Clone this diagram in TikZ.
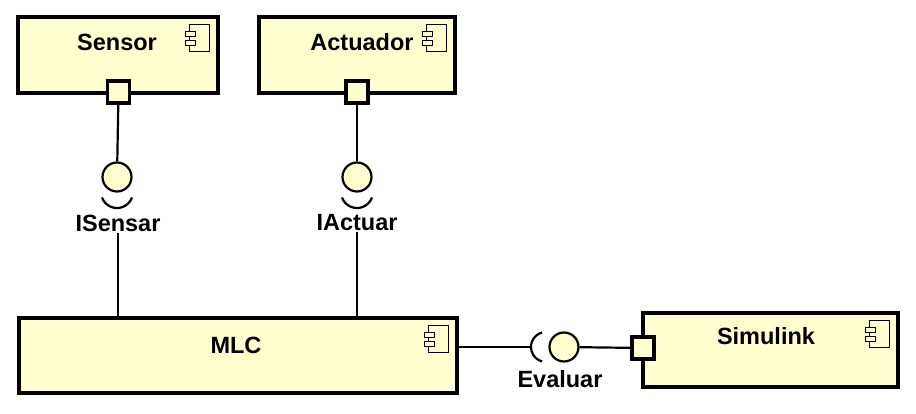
\documentclass[tikz,border=0pt]{standalone}
\usepackage{fontspec}
\setmainfont{Liberation Sans}
\definecolor{compfill}{HTML}{FEFECE}
\newcommand{\compicon}[1]{%
  \begin{scope}[shift={(#1.north east)}]
    \draw[icon] (-30,9) rectangle (-10,36);
    \draw[icon] (-34,16) rectangle (-24,21);
    \draw[icon] (-34,25) rectangle (-24,30);
  \end{scope}}
\begin{document}
\begin{tikzpicture}[x=1pt, y=-1pt,
    comp/.style = {draw, fill=compfill, line width=3.2pt, inner sep=0pt},
    port/.style = {draw, fill=compfill, line width=3.2pt, minimum size=22pt, inner sep=0pt},
    lolli/.style = {draw, circle, fill=compfill, line width=2.2pt, minimum size=29pt, inner sep=0pt},
    wire/.style = {line width=2.2pt},
    icon/.style = {draw, fill=compfill, line width=1.3pt},
    txt/.style = {font=\fontsize{23.5}{27}\selectfont\bfseries, inner sep=1pt}]
\useasboundingbox (0,0) rectangle (916,414);

% components
\node[comp, minimum width=200pt, minimum height=76pt] (sensor)   at (118,55)    {};
\node[comp, minimum width=196pt, minimum height=76pt] (actuador) at (357,55)    {};
\node[comp, minimum width=438pt, minimum height=75pt] (mlc)      at (238,355.5) {};
\node[comp, minimum width=255pt, minimum height=74pt] (simulink) at (770.5,350) {};
\node[txt] (nsensor)   at (117,42)  {Sensor};
\node[txt] (nactuador) at (362,42)  {Actuador};
\node[txt] (nmlc)      at (236,345) {MLC};
\node[txt] (nsimulink) at (766,336) {Simulink};
\compicon{sensor}
\compicon{actuador}
\compicon{mlc}
\compicon{simulink}

% ports
\node[port] (psensor)   at (118.5,92) {};
\node[port] (pactuador) at (357,92)   {};
\node[port] (psim)      at (643,348)  {};

% provided interfaces
\node[lolli] (isensar) at (117,177) {};
\node[lolli] (iactuar) at (357,177) {};
\node[lolli] (evaluar) at (564,347) {};
\node[txt] (lsensar) at (118,223) {ISensar};
\node[txt] (lactuar) at (357,223) {IActuar};
\node[txt] (levaluar) at (560,379) {Evaluar};
\coordinate (sockev) at ([xshift=-33pt]evaluar.center);

\draw[wire] (psensor) -- (isensar);
\draw[wire] (pactuador) -- (iactuar);
\draw[wire] (evaluar) -- (psim);

% sockets
\draw[wire] ([shift={(-15,20.5)}]isensar.center) arc[start angle=160, end angle=20, radius=16];
\draw[wire] ([shift={(-15,20.5)}]iactuar.center) arc[start angle=160, end angle=20, radius=16];
\draw[wire] ([shift={(-21.9,-14.5)}]evaluar.center) arc[start angle=255, end angle=105, radius=15];

\draw[wire] (lsensar.south) -- (lsensar |- mlc.north);
\draw[wire] (lactuar.south) -- (lactuar |- mlc.north);
\draw[wire] (mlc.east |- sockev) -- (sockev);
\end{tikzpicture}
\end{document}
